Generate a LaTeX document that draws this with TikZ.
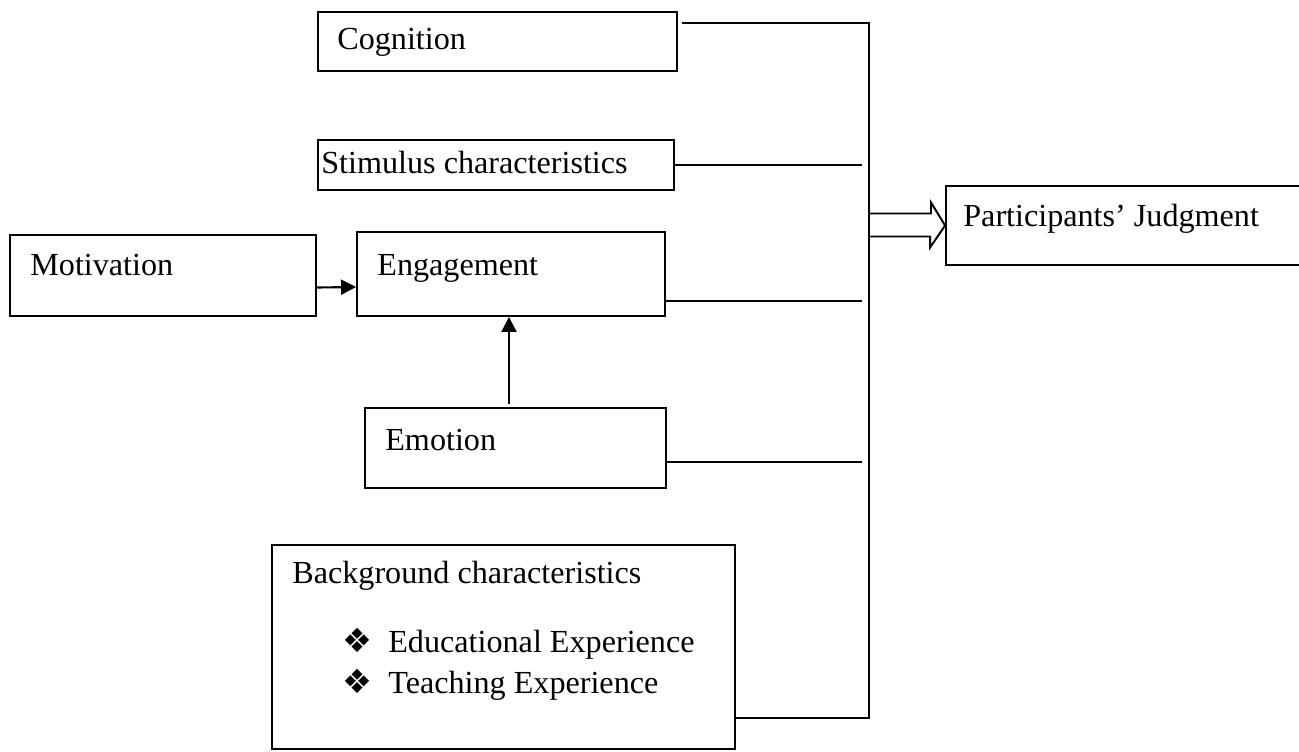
\documentclass[tikz,border=0pt]{standalone}
\usepackage{fontspec}
\setmainfont{Liberation Serif}
\newfontfamily\symfont{DejaVu Sans}
\usepackage{tikz}
\usetikzlibrary{positioning, calc, arrows.meta}

\begin{document}
\begin{tikzpicture}[x=0.02cm, y=-0.02cm, font=\fontsize{18.3}{22}\selectfont,
    box/.style={draw, line width=1.1pt, inner sep=0pt},
    txt/.style={anchor=base west, inner sep=0pt},
    bul/.style={anchor=base west, inner sep=0pt, font=\symfont\fontsize{19}{22}\selectfont},
    wire/.style={line width=1.1pt},
    arr/.style={line width=1.2pt, -{Triangle[length=0.3cm, width=0.3cm]}}]
    \useasboundingbox (0,0) rectangle (1299,751);

    % Cognition Box
    \node[box, minimum width=7.18cm, minimum height=1.18cm] (cog) at (497.5,41.5) {};
    \node[txt] (cogtxt) at (337,49) {Cognition};

    % Stimulus Box
    \node[box, minimum width=7.12cm, minimum height=1.0cm] (stim) at (496,165) {};
    \node[txt] (stimtxt) at (321,173) {Stimulus characteristics};

    % Motivation Box
    \node[box, minimum width=6.12cm, minimum height=1.62cm] (mot) at (163,275.5) {};
    \node[txt] (mottxt) at (30,275) {Motivation};

    % Engagement Box
    \node[box, minimum width=6.16cm, minimum height=1.68cm] (eng) at (511,274) {};
    \node[txt] (engtxt) at (377,275) {Engagement};

    % Emotion Box
    \node[box, minimum width=6.02cm, minimum height=1.6cm] (emo) at (515.5,448) {};
    \node[txt] (emotxt) at (385,450) {Emotion};

    % Background Box
    \node[box, minimum width=9.26cm, minimum height=4.08cm] (bg) at (503.5,647) {};
    \node[txt] (bgtxt) at (292,583) {Background characteristics};
    \node[bul] (bul1) at (342,652) {❖};
    \node[txt] (edu) at (388,652) {Educational Experience};
    \node[bul] (bul2) at (342,693) {❖};
    \node[txt] (teach) at (388,693) {Teaching Experience};

    % Judgment Box
    \node[box, minimum width=7.28cm, minimum height=1.58cm] (judg) at (1128,225.5) {};
    \node[txt] (judgtxt) at (963,226) {Participants’ Judgment};

    % bus line on the right
    \coordinate (bustop) at (869,23);
    \coordinate (busbot) at (869,718);
    \coordinate (tap) at (862,0);
    \draw[wire] ($(cog.east |- bustop)+(4,0)$) -- (bustop) -- (busbot) -- (bg.east |- busbot);
    \draw[wire] (stim.east) -- (stim.east -| tap);
    \draw[wire] ([shift={(0,-16)}]eng.south east) -- ($(eng.south east -| tap)+(0,-16)$);
    \draw[wire] ([shift={(0,-27)}]emo.south east) -- ($(emo.south east -| tap)+(0,-27)$);

    % hollow arrow to the judgment
    \coordinate (arrbase) at (bustop |- judg.west);
    \draw[wire, line join=miter] ($(arrbase)+(0,-12)$) -- ++(62,0) -- ++(0,-11) -- (judg.west)
      -- ++(-15,22) -- ++(0,-11) -- ++(-62,0);

    % arrows into engagement
    \draw[arr] ([shift={(0,12)}]mot.east) -- ($(eng.west)+(0,13)$);
    \coordinate (up) at (509,0);
    \draw[arr] ($(up |- emo.north)+(0,-3)$) -- (up |- eng.south);
\end{tikzpicture}
\end{document}
